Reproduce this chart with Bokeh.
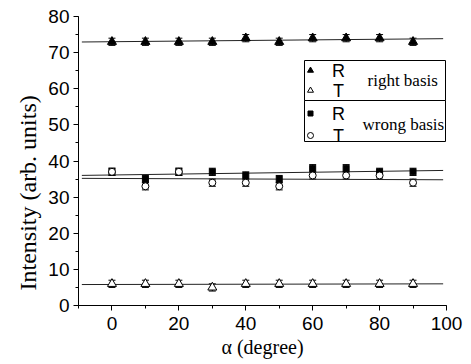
import numpy as np
from bokeh.plotting import figure
from bokeh.models import (ColumnDataSource, Whisker, TeeHead, Label, Range1d,
                          SingleIntervalTicker, Title)
from bokeh.embed import file_html
from bokeh.resources import INLINE

# ---- data ----
ALPHA = [0, 10, 20, 30, 40, 50, 60, 70, 80, 90]
RIGHT_R = [73, 73, 73, 73, 74, 73, 74, 74, 74, 73]
RIGHT_T = [6, 6, 6, 5, 6, 6, 6, 6, 6, 6]
WRONG_R = [37, 35, 37, 37, 36, 35, 38, 38, 37, 37]
WRONG_T = [37, 33, 37, 34, 34, 33, 36, 36, 36, 34]
ERR_RIGHT_R = [1, 1, 1, 1, 1, 1, 1, 1, 1, 1]
ERR_RIGHT_T = [1, 1, 1, 1, 1, 1, 1, 1, 1, 1]
ERR_WRONG_R = [1, 1, 1, 1, 1, 1, 1, 1, 1, 1]
ERR_WRONG_T = [1, 1, 1, 1, 1, 1, 1, 1, 1, 1]
FIT_X = [-9, 99]
X_TITLE = "α (degree)"
Y_TITLE = "Intensity (arb. units)"
GROUPS = ["right basis", "wrong basis"]
SERIES_LABELS = ["R", "T"]

SANS = "Liberation Sans"
SERIF = "Liberation Serif"

X0, X1, Y0, Y1 = -10, 100, 0, 80
FL, FR, FT, FB = 78, 446, 16, 305   # frame edges in page pixels

p = figure(width=471, height=364, x_range=Range1d(X0, X1), y_range=Range1d(Y0, Y1),
           output_backend="svg", toolbar_location=None,
           min_border_left=FL, min_border_right=471 - FR, min_border_top=FT,
           min_border_bottom=364 - FB)
p.xgrid.visible = False
p.ygrid.visible = False
p.outline_line_color = None
p.background_fill_color = "white"

def dx(px):
    return X0 + (px - FL) * (X1 - X0) / (FR - FL)

def dy(py):
    return Y0 + (FB - py) * (Y1 - Y0) / (FB - FT)

p.xaxis.ticker = SingleIntervalTicker(interval=20, num_minor_ticks=2)
p.yaxis.ticker = SingleIntervalTicker(interval=10, num_minor_ticks=2)
for ax in (p.xaxis, p.yaxis):
    ax.axis_line_color = "black"
    ax.major_tick_line_color = "black"
    ax.minor_tick_line_color = "black"
    ax.major_tick_out = 5
    ax.major_tick_in = 0
    ax.minor_tick_out = 3
    ax.minor_tick_in = 0
    ax.major_label_text_font = SANS
    ax.major_label_text_font_size = "19px"
    ax.major_label_text_color = "black"
p.xaxis.major_label_standoff = 6
p.yaxis.major_label_standoff = 4

p.xaxis.axis_label = X_TITLE
p.xaxis.axis_label_text_font = SERIF
p.xaxis.axis_label_text_font_size = "20px"
p.xaxis.axis_label_text_font_style = "normal"
p.xaxis.axis_label_text_color = "black"
p.xaxis.axis_label_standoff = 3

p.add_layout(Title(text=Y_TITLE, align="left", offset=15, standoff=10,
                   text_font=SERIF, text_font_size="24px", text_font_style="normal",
                   text_color="black", vertical_align="bottom"), "left")

# ---- fit lines ----
fx = np.array(FIT_X, dtype=float)
for ys in (RIGHT_R, RIGHT_T, WRONG_R, WRONG_T):
    k, b = np.polyfit(ALPHA, ys, 1)
    p.line(fx, k * fx + b, line_color="#222222", line_width=1)

# ---- error bars ----
def add_err(ys, errs):
    ys = np.array(ys, dtype=float)
    e = np.array(errs, dtype=float)
    src = ColumnDataSource(dict(x=ALPHA, lower=ys - e, upper=ys + e))
    w = Whisker(base="x", lower="lower", upper="upper", source=src,
                line_color="black", line_width=1,
                upper_head=TeeHead(size=7, line_color="black", line_width=1),
                lower_head=TeeHead(size=7, line_color="black", line_width=1))
    p.add_layout(w)

add_err(RIGHT_R, ERR_RIGHT_R)
add_err(RIGHT_T, ERR_RIGHT_T)
add_err(WRONG_R, ERR_WRONG_R)
add_err(WRONG_T, ERR_WRONG_T)

# ---- markers ----
STYLES = [("triangle", 9, "black"), ("triangle", 9, "white"),
          ("square", 6, "black"), ("circle", 7, "white")]
for ys, (mk, sz, fc) in zip((RIGHT_R, RIGHT_T, WRONG_R, WRONG_T), STYLES):
    p.scatter(ALPHA, ys, marker=mk, size=sz, fill_color=fc, line_color="black")

# ---- legend (two stacked boxes) ----
LEG_L, LEG_R = 304, 445
BOXES = [(60, 100), (100, 141)]
ROWS = [(70, 90), (113, 135)]
LEG_MARKER_SIZES = [6, 6, 5, 6]
for (bt, bb) in BOXES:
    p.quad(left=[dx(LEG_L)], right=[dx(LEG_R)], top=[dy(bt)], bottom=[dy(bb)],
           fill_color="white", line_color="black", line_width=1)
k = 0
for gi, (ra, rb) in enumerate(ROWS):
    for si, ry in enumerate((ra, rb)):
        mk, _, fc = STYLES[k]
        p.scatter([dx(310)], [dy(ry)], marker=mk, size=LEG_MARKER_SIZES[k],
                  fill_color=fc, line_color="black")
        p.add_layout(Label(x=dx(338), y=dy(ry), text=SERIES_LABELS[si], text_font=SANS,
                           text_font_size="18px", text_align="center",
                           text_baseline="middle", text_color="black", level="overlay"))
        k += 1
    p.add_layout(Label(x=dx(367 if gi == 0 else 362), y=dy((ra + rb) / 2), text=GROUPS[gi],
                       text_font=SERIF, text_font_size="17px", text_baseline="middle",
                       text_align="left", text_color="black", level="overlay"))

open("out.html", "w").write(file_html(p, INLINE))
